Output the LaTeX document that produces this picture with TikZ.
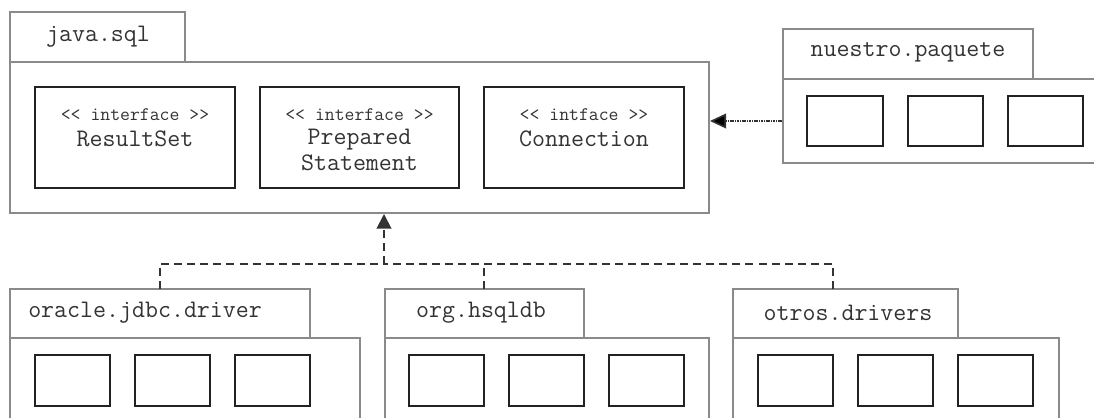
\documentclass[tikz,border=0pt]{standalone}
\usepackage{fontspec}
\usetikzlibrary{fit,arrows.meta}
\definecolor{pkggray}{HTML}{8A8A8A}
\definecolor{boxdark}{HTML}{222222}
\definecolor{txt}{HTML}{333333}
\tikzset{
  pkg/.style={draw=pkggray, line width=1.5pt, inner sep=0pt, fill=white},
  cls/.style={draw=boxdark, line width=1.7pt, inner sep=0pt},
  pkglabel/.style={font=\ttfamily\fontsize{18.9}{22}\selectfont, text=txt, inner sep=0pt},
  stereo/.style={font=\ttfamily\fontsize{14.4}{17}\selectfont, text=txt, inner sep=0pt},
  clsname/.style={font=\ttfamily\fontsize{18.9}{22}\selectfont, text=txt, inner sep=0pt},
  dep/.style={draw=txt, line width=1.5pt, dash pattern=on 6pt off 3.8pt, -{Triangle[length=11pt,width=11pt]}},
  depline/.style={draw=txt, line width=1.5pt, dash pattern=on 6pt off 3.8pt},
  use/.style={draw=txt, line width=1.2pt, dash pattern=on 1.2pt off 0.6pt, -{Triangle[length=12pt,width=11pt,fill=black]}}
}
\begin{document}
\begin{tikzpicture}[x=0.75pt, y=-0.75pt]
\useasboundingbox (0,0) rectangle (1094,417);
\clip (0,0) rectangle (1094,417);
% java.sql
\node[pkg, fit={(10,12)(185,62)}] (jtab) {};
\node[pkg, fit={(10,62)(709,213)}] (jbody) {};
\node[pkglabel] (jlab) at (98,37) {java.sql};
\node[cls, fit={(35,87)(235,188)}] (rs) {};
\node[cls, fit={(260,87)(459,188)}] (ps) {};
\node[cls, fit={(484,87)(684,188)}] (cn) {};
\node[stereo] (rss) at (135,115) {<< interface >>};
\node[clsname] (rsn) at (135,139) {ResultSet};
\node[stereo] (pss) at (359.5,115) {<< interface >>};
\node[clsname] (psn) at (359.5,139.5) {Prepared};
\node[clsname] (psn2) at (359.5,163) {Statement};
\node[stereo] (cns) at (584,115) {<< intface >>};
\node[clsname] (cnn) at (584,139) {Connection};
% nuestro.paquete
\node[pkg, fit={(783,29)(1033,79)}] (ntab) {};
\node[pkg, fit={(783,79)(1110,163)}] (nbody) {};
\node[pkglabel] (nlab) at (908,52) {nuestro.paquete};
\node[cls, fit={(807,96)(883,146)}] (n1) {};
\node[cls, fit={(908,96)(983,146)}] (n2) {};
\node[cls, fit={(1008,96)(1083,146)}] (n3) {};
% oracle.jdbc.driver
\node[pkg, fit={(10,289)(310,338)}] (otab) {};
\node[pkg, fit={(10,338)(360,440)}] (obody) {};
\node[pkglabel, anchor=west] (olab) at (28,313) {oracle.jdbc.driver};
\node[cls, fit={(35,355)(110,406)}] (o1) {};
\node[cls, fit={(135,355)(210,406)}] (o2) {};
\node[cls, fit={(235,355)(310,406)}] (o3) {};
% org.hsqldb
\node[pkg, fit={(385,289)(584,338)}] (htab) {};
\node[pkg, fit={(385,338)(709,440)}] (hbody) {};
\node[pkglabel] (hlab) at (481,313) {org.hsqldb};
\node[cls, fit={(409,355)(484,406)}] (h1) {};
\node[cls, fit={(509,355)(584,406)}] (h2) {};
\node[cls, fit={(609,355)(684,406)}] (h3) {};
% otros.drivers
\node[pkg, fit={(733,289)(958,338)}] (ttab) {};
\node[pkg, fit={(733,338)(1059,440)}] (tbody) {};
\node[pkglabel] (tlab) at (848,313) {otros.drivers};
\node[cls, fit={(758,355)(833,406)}] (t1) {};
\node[cls, fit={(858,355)(933,406)}] (t2) {};
\node[cls, fit={(958,355)(1033,406)}] (t3) {};
% connectors
\coordinate (bus) at (384,264);
\coordinate (oconn) at (160,289);
\coordinate (hconn) at (484,289);
\coordinate (tconn) at (833,289);
\draw[depline] (oconn) |- (bus);
\draw[depline] (tconn) |- (bus);
\draw[depline] (hconn) -- (hconn |- bus);
\draw[dep] (bus) -- (bus |- jbody.south);
\draw[use] (nbody.west) -- (nbody.west -| jbody.east);
\end{tikzpicture}
\end{document}
